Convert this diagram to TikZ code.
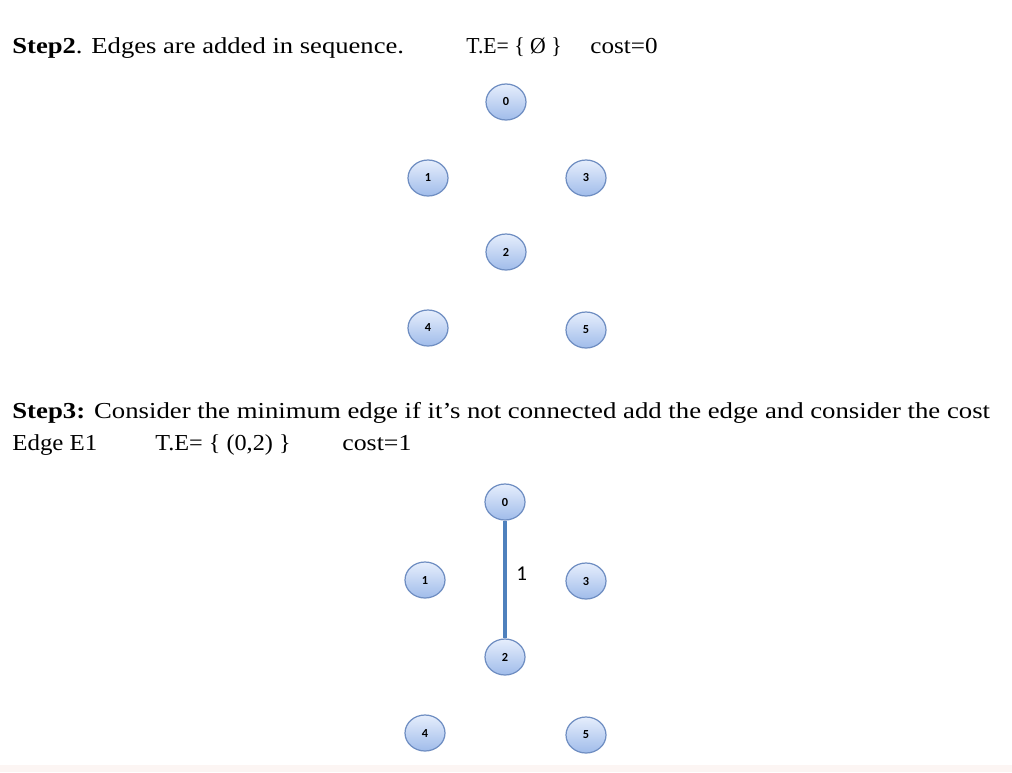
\documentclass[tikz,border=0pt]{standalone}
\usepackage{fontspec}
\setmainfont{Liberation Serif}
\newfontfamily\labelfont{Carlito}
\usepackage{graphicx}
\usepackage{tikz}

\tikzset{
  vertex/.style={ellipse, minimum width=0.8cm, minimum height=0.72cm, inner sep=0pt,
    draw=vborder, line width=0.7pt, top color=vtop, bottom color=vbottom,
    font=\labelfont\bfseries\fontsize{7}{8}\selectfont},
  caption/.style={anchor=base west, inner sep=0pt, font=\fontsize{13}{15}\selectfont},
  treeedge/.style={draw=edgeblue, line width=2.2pt}
}
\definecolor{vborder}{HTML}{6F8EC2}
\definecolor{vtop}{HTML}{E6EEFC}
\definecolor{vbottom}{HTML}{A0BCEA}
\definecolor{edgeblue}{HTML}{4F81BD}
\definecolor{band}{HTML}{FCF5F3}
\usetikzlibrary{shapes.geometric}
\newcommand{\hs}[2]{\scalebox{#1}[1]{#2}}

\begin{document}
\begin{tikzpicture}
\useasboundingbox (0,0) rectangle (20.24,-15.44);
\fill[band] (0,-15.30) rectangle (20.24,-15.44);

\node[caption] (s2) at (0.24,-1.06) {\hs{1.165}{\textbf{Step2}. Edges are added in sequence.}};
\node[caption] (te0) at (9.32,-1.06) {\hs{0.95}{T.E= \{ Ø \}}};
\node[caption] (c0) at (11.80,-1.06) {\hs{1.1}{cost=0}};

\node[vertex] (a0) at (10.12,-2.04) {0};
\node[vertex] (a1) at (8.56,-3.56) {1};
\node[vertex] (a3) at (11.72,-3.56) {3};
\node[vertex] (a2) at (10.12,-5.04) {2};
\node[vertex] (a4) at (8.56,-6.56) {4};
\node[vertex] (a5) at (11.72,-6.60) {5};

\node[caption] (s3) at (0.24,-8.36) {\hs{1.171}{\textbf{Step3:} Consider the minimum edge if it’s not connected add the edge and consider the cost}};
\node[caption] (e1) at (0.24,-9.00) {\hs{1.09}{Edge E1}};
\node[caption] (te1) at (3.10,-9.00) {\hs{1.06}{T.E= \{ (0,2) \}}};
\node[caption] (c1) at (6.84,-9.00) {\hs{1.13}{cost=1}};

\node[vertex] (b0) at (10.10,-10.04) {0};
\node[vertex] (b1) at (8.50,-11.60) {1};
\node[vertex] (b3) at (11.72,-11.62) {3};
\node[vertex] (b2) at (10.10,-13.14) {2};
\node[vertex] (b4) at (8.50,-14.66) {4};
\node[vertex] (b5) at (11.72,-14.70) {5};

\draw[treeedge] (b0) -- node[right=2pt, pos=0.45, font=\labelfont\fontsize{12}{14}\selectfont] {1} (b2);
\end{tikzpicture}
\end{document}
